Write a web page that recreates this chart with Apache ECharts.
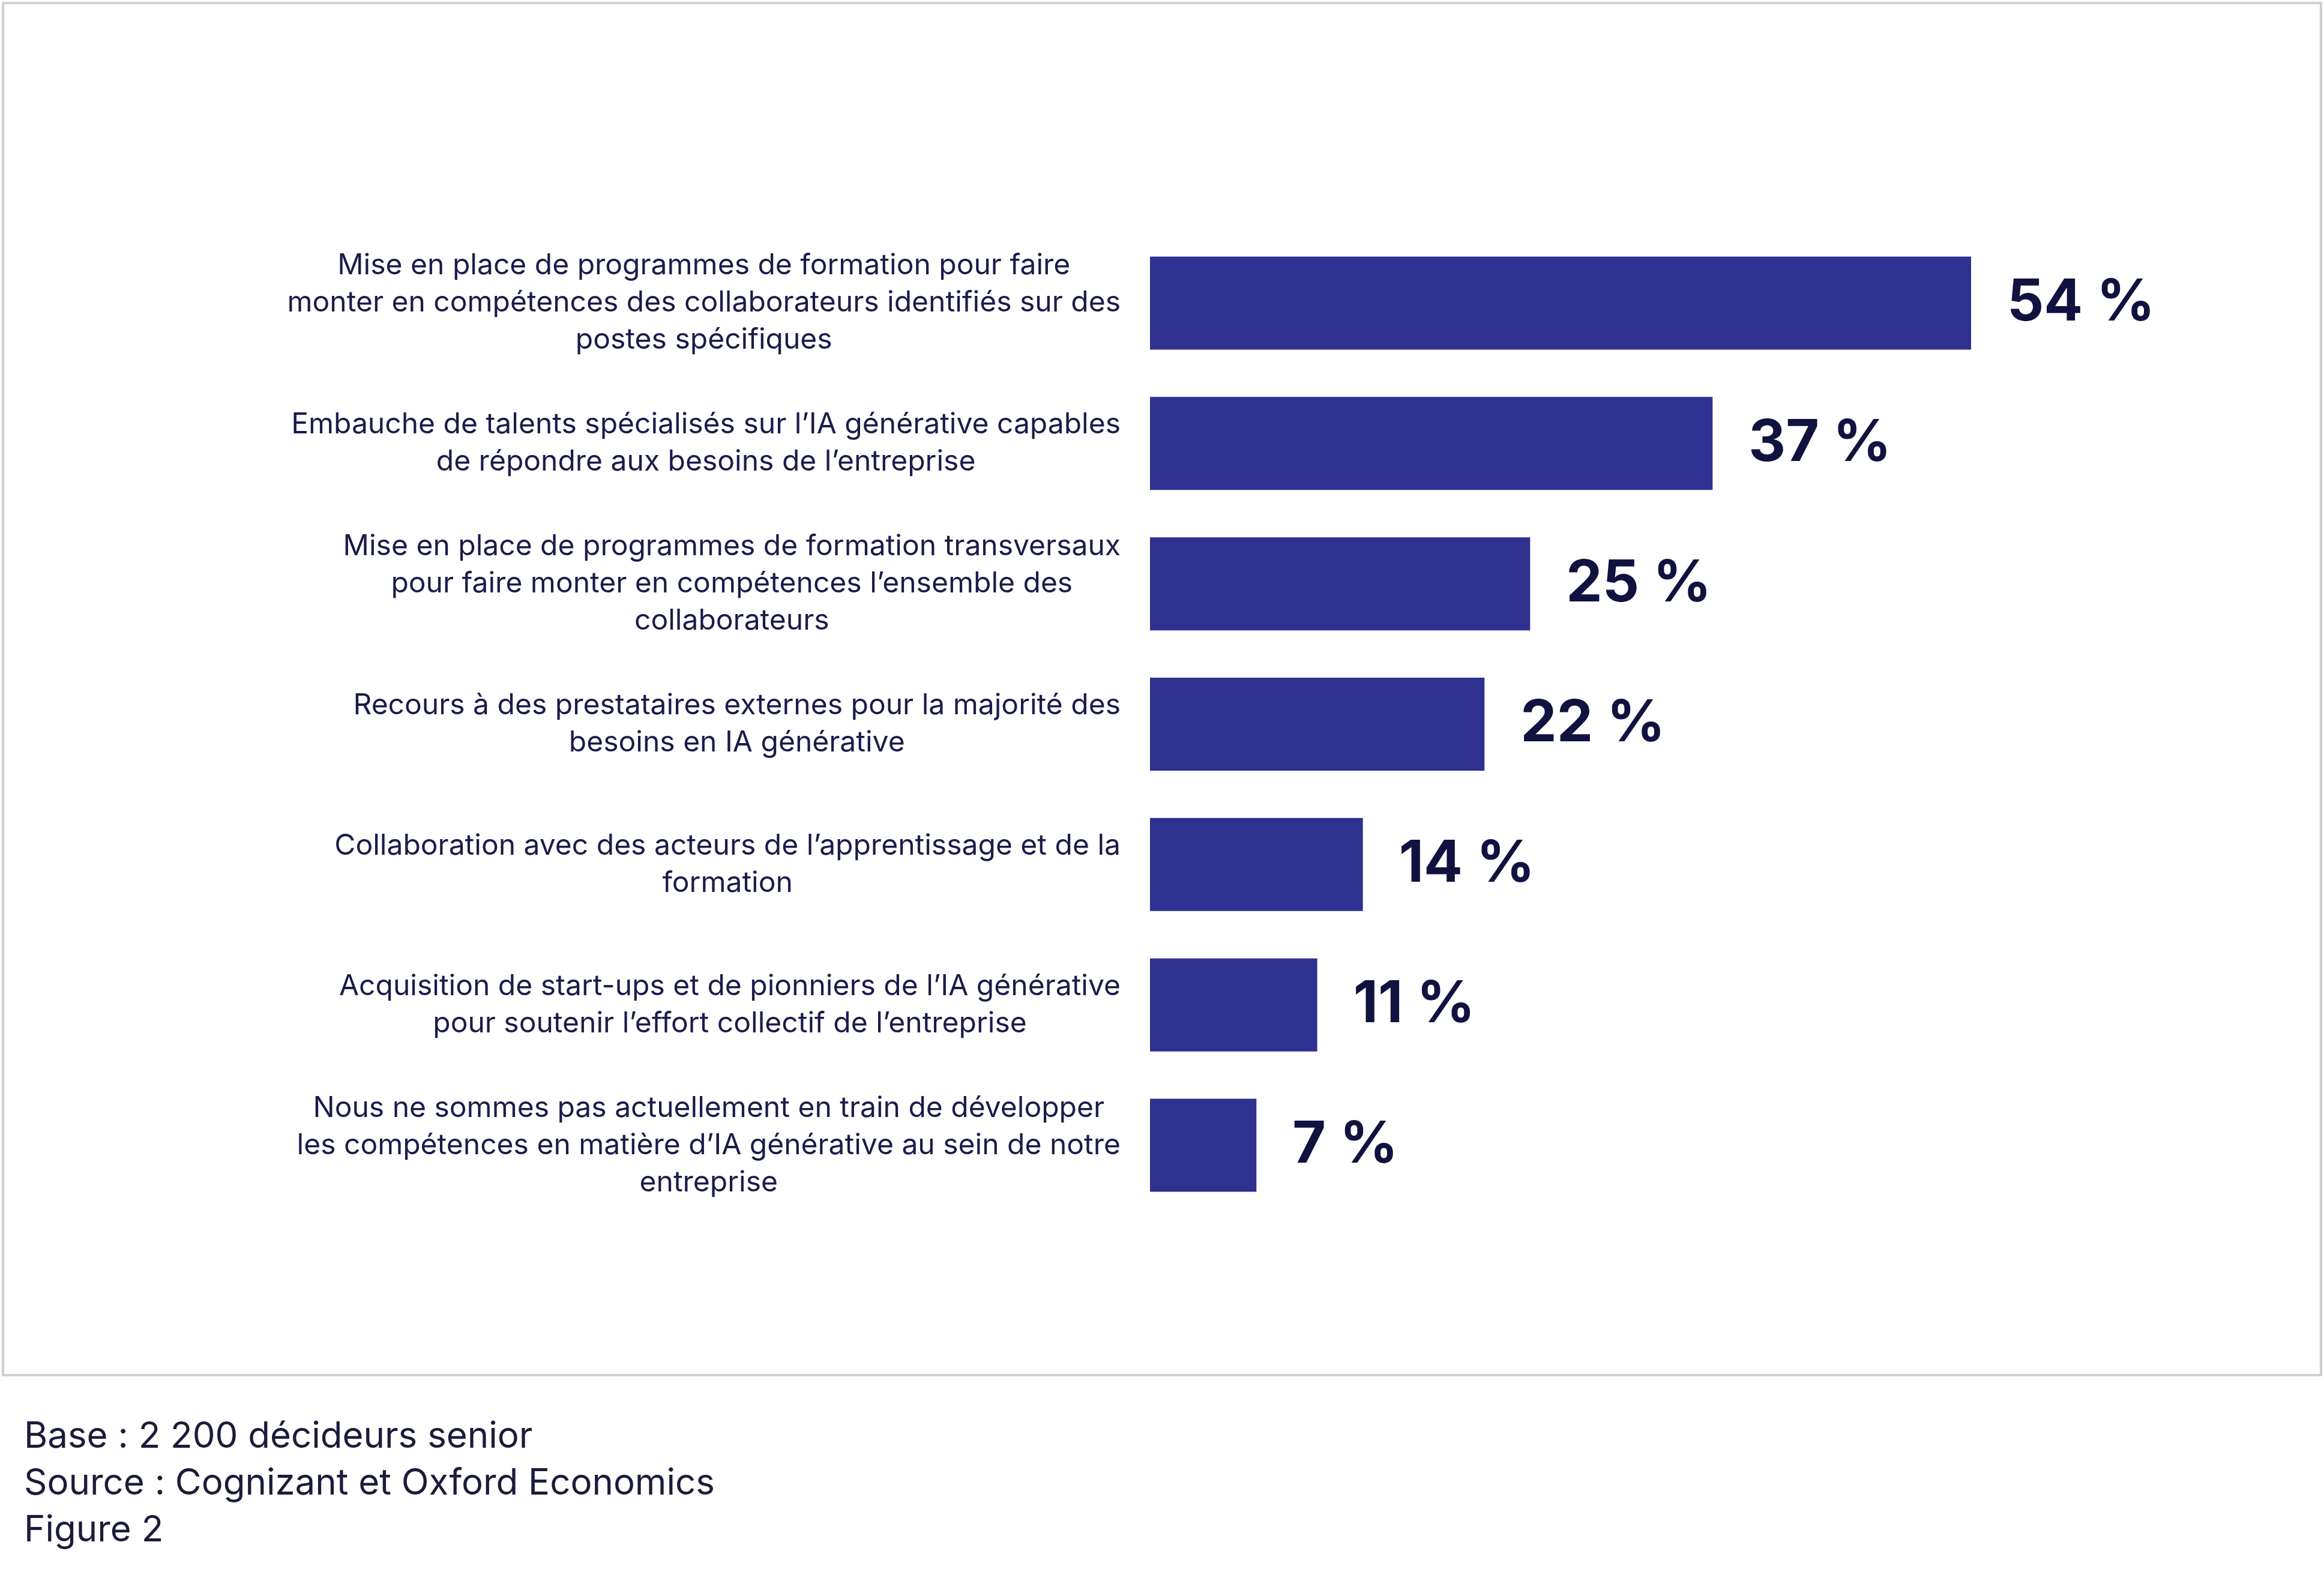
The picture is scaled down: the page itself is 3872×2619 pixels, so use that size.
<!DOCTYPE html>
<html><head><meta charset="utf-8">
<script src="https://cdn.jsdelivr.net/npm/echarts@6/dist/echarts.min.js"></script>
<style>html,body{margin:0;padding:0;background:#fff}#c{width:3872px;height:2619px}</style>
</head><body><div id="c"></div>
<script>
const categories = [
 "Mise en place de programmes de formation pour faire\nmonter en compétences des collaborateurs identifiés sur des\npostes spécifiques",
 "Embauche de talents spécialisés sur l’IA générative capables\nde répondre aux besoins de l’entreprise",
 "Mise en place de programmes de formation transversaux\npour faire monter en compétences l’ensemble des\ncollaborateurs",
 "Recours à des prestataires externes pour la majorité des\nbesoins en IA générative",
 "Collaboration avec des acteurs de l’apprentissage et de la\nformation",
 "Acquisition de start-ups et de pionniers de l’IA générative\npour soutenir l’effort collectif de l’entreprise",
 "Nous ne sommes pas actuellement en train de développer\nles compétences en matière d’IA générative au sein de notre\nentreprise"
];
const values = [54, 37, 25, 22, 14, 11, 7];
const footnotes = ["Base : 2 200 décideurs senior", "Source : Cognizant et Oxford Economics", "Figure 2"];

const FONT = "Inter, 'Noto Sans', sans-serif";
const FS = 48;
const ctx = document.createElement('canvas').getContext('2d');
ctx.font = FS + "px " + FONT;
const rich = {};
categories.forEach((c, i) => {
  const w = Math.max(...c.split('\n').map(l => ctx.measureText(l).width)) + 4;
  rich['l' + i] = {width: w, align: 'center', fontSize: FS, lineHeight: 62, color: '#1b1b4a', fontFamily: FONT};
});

const chart = echarts.init(document.getElementById('c'));
chart.setOption({
  animation: false,
  textStyle: {fontFamily: FONT},
  graphic: [
    {type:'rect', shape:{x:5,y:5,width:3862,height:2286}, style:{fill:'none', stroke:'#cfcfcf', lineWidth:4}},
    {type:'text', left:40, top:2355, style:{text: footnotes.join('\n'), fontSize:60, lineHeight:78, fill:'#1b1b3a', fontFamily:FONT}}
  ],
  grid: {left:1916, right:588, top:388, height:1637},
  xAxis: {type:'value', min:0, max:54, show:false},
  yAxis: {type:'category', inverse:true, data:categories,
    axisLine:{show:false}, axisTick:{show:false},
    axisLabel:{fontSize:FS, lineHeight:62, color:'#1b1b4a', align:'right', margin:47, rich: rich,
      formatter: (v, i) => v.split('\n').map(l => '{l' + i + '|' + l + '}').join('\n')}},
  series: [{type:'bar', data:values, barWidth:155, itemStyle:{color:'#2e3190'},
    label:{show:true, position:'right', distance:60, formatter:'{c} %', fontSize:96, fontWeight:'bold', color:'#10123f'}}]
});
</script></body></html>
